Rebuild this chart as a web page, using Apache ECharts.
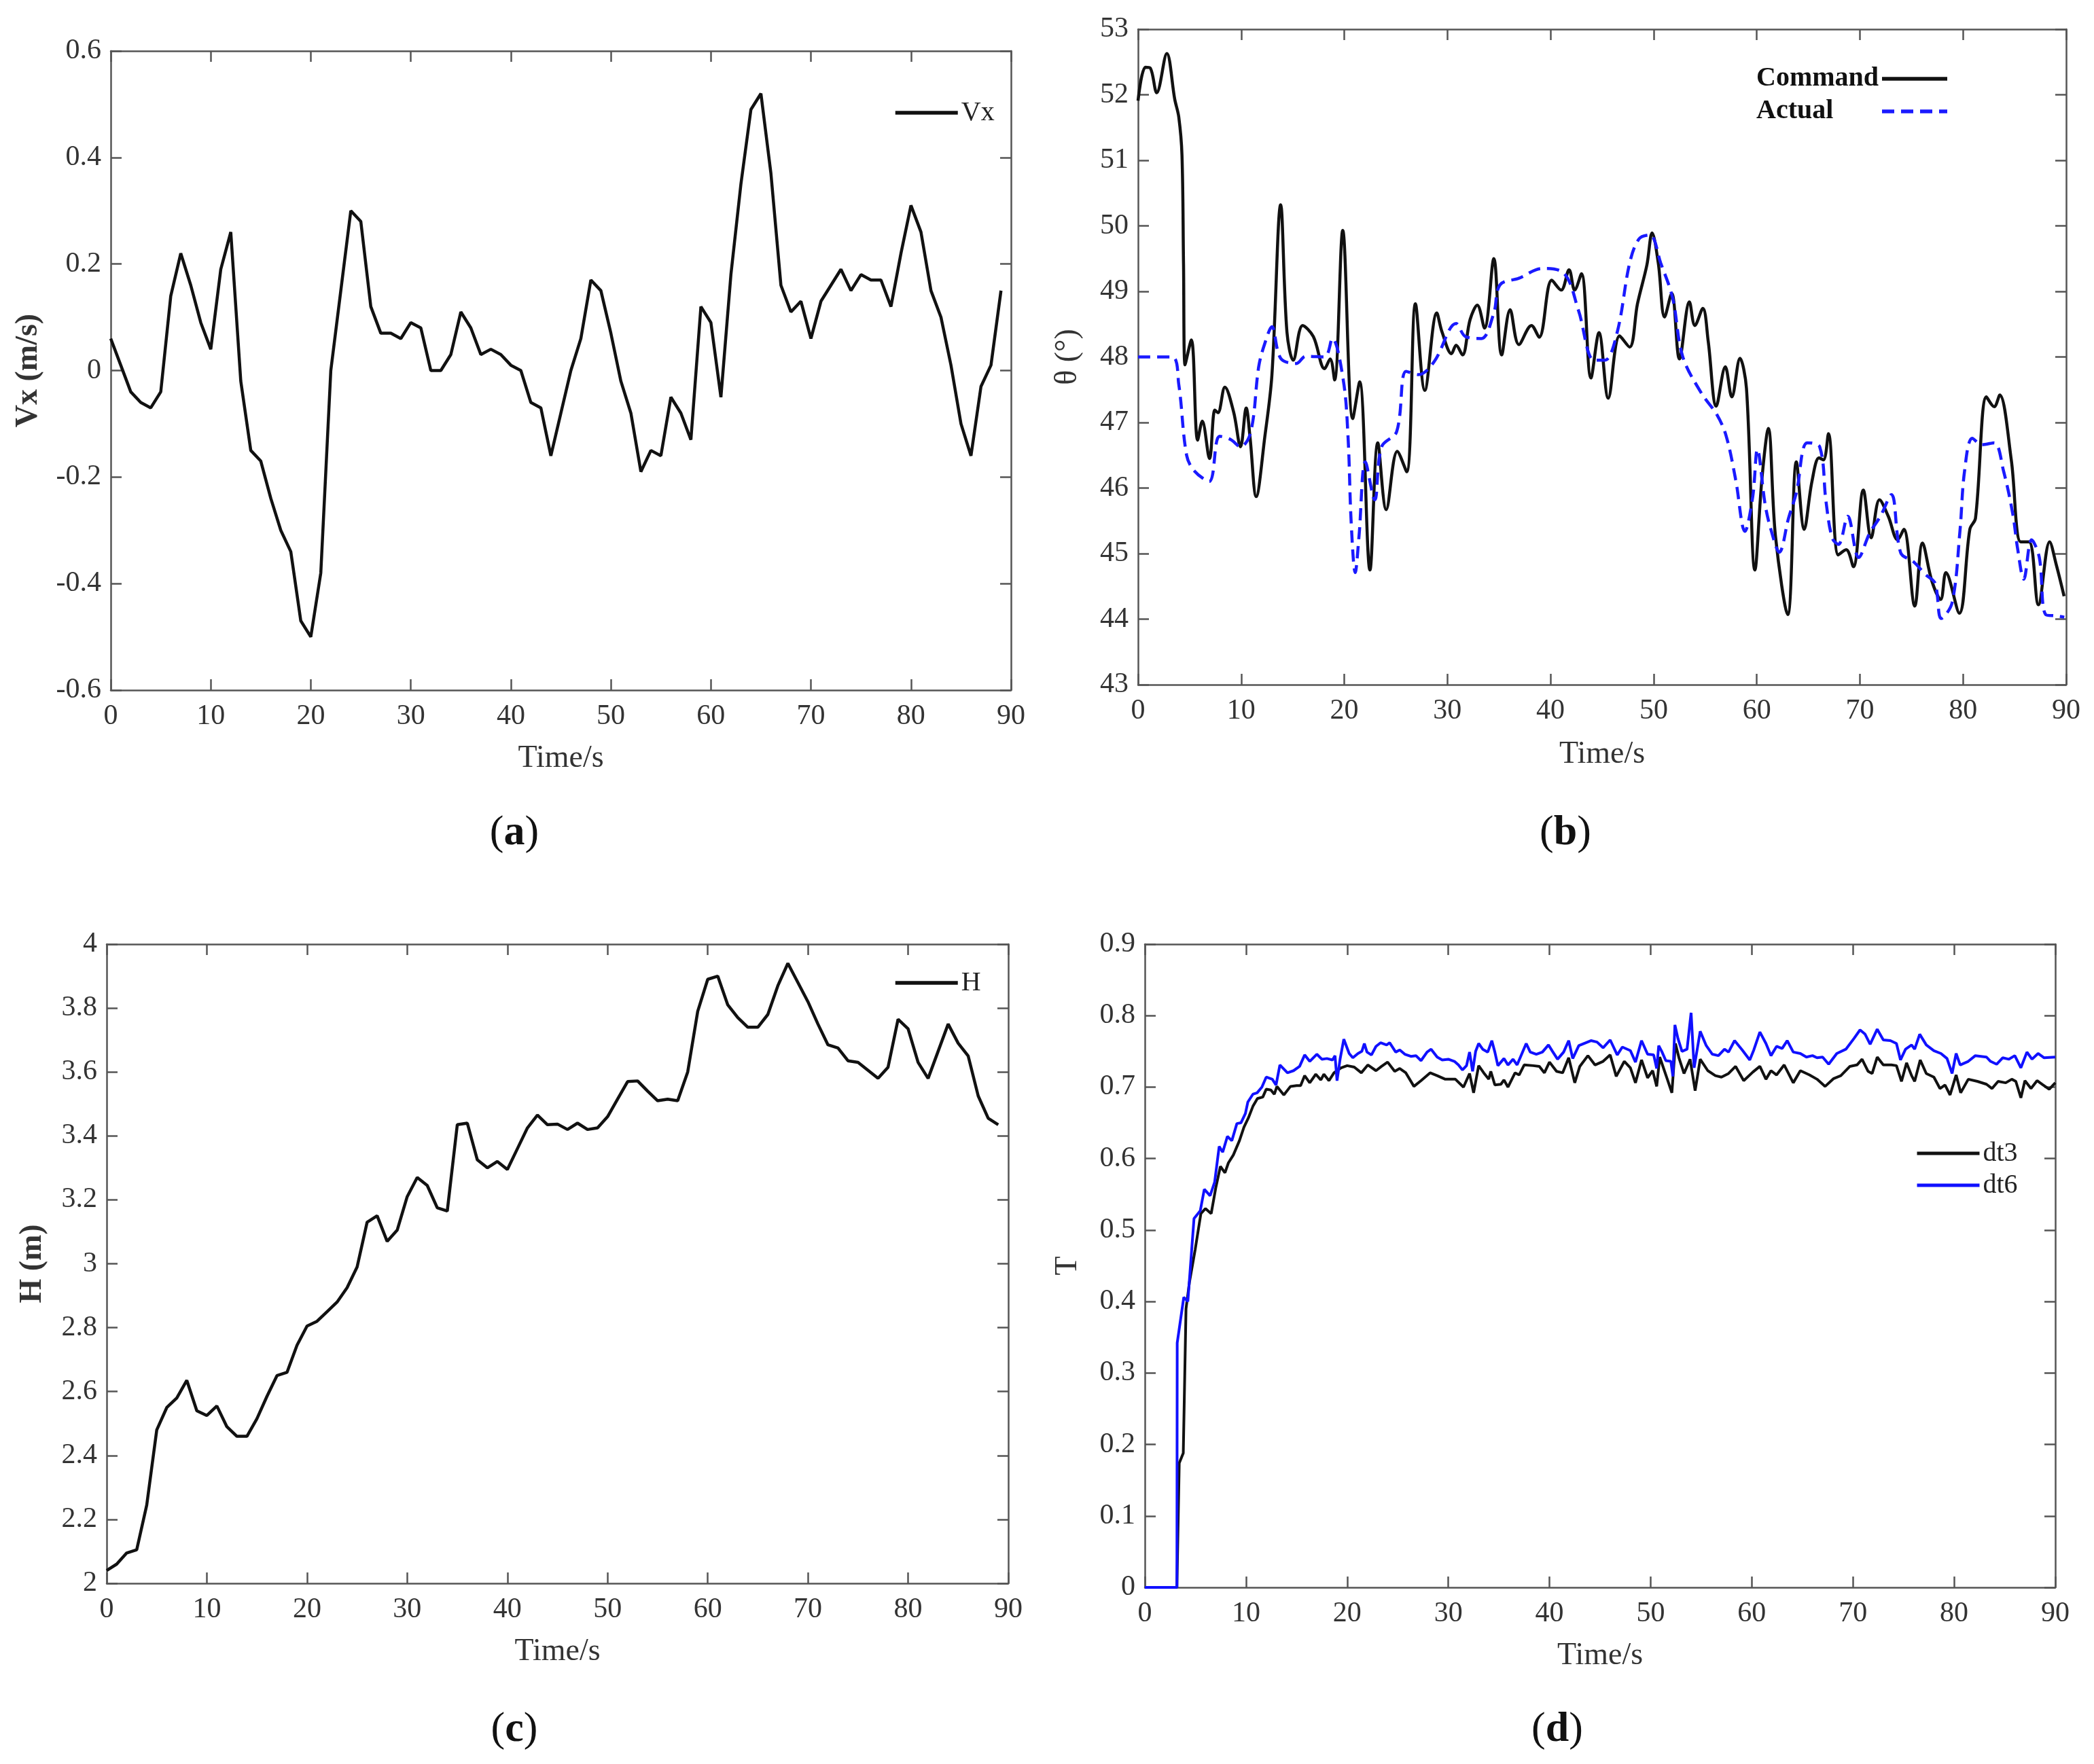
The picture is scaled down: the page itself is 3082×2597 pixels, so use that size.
<!DOCTYPE html>
<html>
<head>
<meta charset="utf-8">
<title>Vx / theta / H / T</title>
<script src="https://cdn.jsdelivr.net/npm/echarts@6/dist/echarts.min.js"></script>
<style>
html, body { margin: 0; padding: 0; background: #fff; }
#main { width: 3082px; height: 2597px; }
</style>
</head>
<body>
<div id="main"></div>
<script>
// (a) Vx, one value per second from t = 0
var vx = [0.06,0.01,-0.04,-0.06,-0.07,-0.04,0.14,0.22,0.16,0.09,
    0.04,0.19,0.26,-0.02,-0.15,-0.17,-0.24,-0.30,-0.34,-0.47,
    -0.50,-0.38,0.00,0.15,0.30,0.28,0.12,0.07,0.07,0.06,
    0.09,0.08,0.00,0.00,0.03,0.11,0.08,0.03,0.04,0.03,
    0.01,0.00,-0.06,-0.07,-0.16,-0.08,0.00,0.06,0.17,0.15,
    0.07,-0.02,-0.08,-0.19,-0.15,-0.16,-0.05,-0.08,-0.13,0.12,
    0.09,-0.05,0.18,0.35,0.49,0.52,0.37,0.16,0.11,0.13,
    0.06,0.13,0.16,0.19,0.15,0.18,0.17,0.17,0.12,0.22,
    0.31,0.26,0.15,0.10,0.01,-0.10,-0.16,-0.03,0.01,0.15];

// (b) theta command / actual, [time, value]
var command = [[0,51.91],[0.71,52.42],[1.17,52.41],[1.81,52.03],[2.79,52.63],[3.56,51.93],[3.95,51.66],[4.26,51.08],[4.41,49.43],[4.56,47.88],
    [5.17,48.26],[5.78,46.73],[6.23,47.02],[6.93,46.45],[7.45,47.19],[7.75,47.15],[8.42,47.54],[9.27,47.16],[9.94,46.63],[10.49,47.22],
    [10.85,46.79],[11.46,45.87],[12.3,46.79],[12.98,47.72],[13.83,50.32],[14.44,48.38],[15.05,47.95],[15.96,48.48],[17.0,48.31],[18.09,47.82],
    [18.63,47.97],[19.06,47.65],[19.85,49.93],[20.82,47.06],[21.49,47.62],[22.49,44.75],[23.25,46.69],[24.07,45.67],[25.14,46.56],[26.05,46.25],
    [26.9,48.81],[27.81,47.49],[28.97,48.67],[29.48,48.38],[30.4,48.05],[30.85,48.18],[31.46,48.03],[32.2,48.57],[32.9,48.79],[33.6,48.44],
    [34.5,49.50],[35.26,48.03],[36.08,48.72],[36.93,48.19],[38.15,48.48],[38.9,48.30],[40.12,49.17],[41.03,49.02],[41.8,49.33],[42.34,49.02],
    [43.0,49.27],[43.92,47.68],[44.7,48.37],[45.6,47.37],[46.7,48.32],[47.67,48.15],[48.43,48.81],[49.34,49.40],[49.85,49.89],[50.45,49.43],
    [51.06,48.61],[51.75,48.97],[52.5,47.97],[53.47,48.84],[54.0,48.48],[54.77,48.74],[55.29,48.24],[56.07,47.25],[56.95,47.85],[57.58,47.39],
    [58.37,47.98],[59.0,47.52],[59.82,44.75],[60.51,46.16],[61.12,46.91],[61.81,45.27],[63.0,44.07],[63.84,46.40],[64.6,45.37],[65.35,46.10],
    [66.04,46.46],[66.47,46.43],[66.95,46.83],[67.9,44.98],[68.67,45.06],[69.37,44.80],[70.33,45.97],[71.09,45.24],[71.9,45.82],[72.75,45.57],
    [73.66,45.21],[74.26,45.37],[75.32,44.20],[76.07,45.16],[76.98,44.58],[77.83,44.30],[78.34,44.71],[79.64,44.09],[80.66,45.37],[81.21,45.54],
    [82.27,47.39],[83.02,47.24],[83.56,47.42],[84.68,46.43],[85.59,45.18],[86.41,45.18],[87.31,44.22],[88.4,45.18],[89.06,44.82],[89.8,44.35]];

var actual = [[0,48.0],[3.3,48.0],[3.95,47.58],[4.71,46.5],[5.47,46.26],[6.9,46.1],[7.9,46.79],[8.97,46.74],[9.94,46.63],[10.94,46.86],
    [11.7,47.85],[12.3,48.21],[12.98,48.46],[13.83,47.98],[15.35,47.9],[16.26,48.01],[18.09,48.0],[18.84,48.28],[19.9,47.65],[20.36,46.79],
    [20.67,45.47],[21.06,44.71],[21.43,45.27],[22.04,46.4],[22.95,45.82],[23.62,46.63],[25.08,46.86],[25.99,47.78],[27.2,47.73],[28.72,47.93],
    [30.85,48.51],[31.76,48.31],[33.28,48.28],[34.5,48.67],[35.1,49.1],[36.93,49.2],[39.21,49.35],[41.34,49.27],[42.71,48.71],[44.23,47.95],
    [45.26,47.95],[46.47,48.38],[47.67,49.43],[48.58,49.8],[49.64,49.86],[50.69,49.43],[51.84,48.9],[52.81,48.01],[54.62,47.45],[56.13,47.12],
    [57.04,46.79],[57.95,46.13],[58.85,45.34],[59.61,45.87],[60.06,46.59],[60.82,45.74],[61.42,45.34],[62.18,45.02],[63.08,45.54],[63.84,45.93],
    [64.89,46.69],[66.1,46.63],[66.71,45.8],[67.31,45.24],[67.92,45.14],[68.82,45.57],[69.88,44.94],[70.94,45.31],[71.99,45.57],[73.05,45.9],
    [73.96,45.01],[75.17,44.88],[76.37,44.68],[77.28,44.55],[77.89,44.01],[78.94,44.25],[79.7,45.34],[80.15,46.26],[80.9,46.76],[81.81,46.66],
    [83.02,46.69],[83.93,46.26],[84.83,45.6],[85.29,45.08],[85.89,44.61],[86.65,45.21],[87.4,44.94],[88.01,44.07],[89.06,44.05],[89.82,44.03]];

// (c) H, one value per second from t = 0
var height = [2.04,2.06,2.095,2.105,2.245,2.48,2.55,2.58,2.635,2.54,
    2.525,2.555,2.49,2.46,2.46,2.515,2.585,2.65,2.66,2.745,
    2.805,2.82,2.85,2.88,2.925,2.99,3.13,3.15,3.07,3.105,
    3.21,3.27,3.245,3.175,3.165,3.435,3.44,3.325,3.30,3.32,
    3.295,3.36,3.425,3.465,3.435,3.437,3.42,3.44,3.42,3.425,
    3.46,3.515,3.57,3.572,3.54,3.51,3.515,3.51,3.60,3.79,
    3.89,3.90,3.81,3.77,3.74,3.74,3.78,3.87,3.94,3.88,
    3.82,3.75,3.685,3.675,3.635,3.63,3.605,3.58,3.615,3.765,
    3.735,3.63,3.58,3.665,3.75,3.69,3.65,3.525,3.455,3.435];

// (d) T for dt3 / dt6, [time, value]
var dt3 = [[0,0],[3.17,0],[3.4,0.174],[3.8,0.188],[4.07,0.39],[4.41,0.427],[4.98,0.473],[5.54,0.523],[5.99,0.53],[6.56,0.523],
    [7.01,0.559],[7.47,0.589],[7.92,0.58],[8.26,0.594],[8.75,0.605],[9.35,0.625],[9.8,0.644],[10.24,0.657],[10.68,0.673],[11.13,0.684],
    [11.66,0.686],[12.0,0.697],[12.46,0.696],[12.8,0.69],[13.06,0.701],[13.74,0.689],[14.4,0.701],[15.0,0.702],[15.4,0.702],[15.8,0.716],
    [16.3,0.706],[16.9,0.718],[17.4,0.71],[17.7,0.718],[18.2,0.709],[18.7,0.72],[19.4,0.727],[20.0,0.73],[20.7,0.728],[21.4,0.72],
    [22.05,0.731],[22.85,0.723],[23.4,0.729],[24.0,0.735],[24.7,0.722],[25.2,0.726],[25.8,0.72],[26.6,0.701],[27.3,0.709],[28.2,0.72],
    [28.9,0.716],[29.7,0.711],[30.7,0.711],[31.5,0.70],[32.1,0.719],[32.5,0.692],[33.0,0.73],[33.5,0.72],[34.0,0.711],[34.2,0.722],
    [34.6,0.703],[35.2,0.704],[35.5,0.71],[35.9,0.70],[36.6,0.72],[37.0,0.717],[37.5,0.731],[38.4,0.73],[39.0,0.729],[39.5,0.72],
    [40.0,0.735],[40.7,0.722],[41.3,0.72],[41.9,0.741],[42.5,0.706],[43.0,0.729],[43.8,0.744],[44.5,0.731],[45.3,0.736],[46.0,0.745],
    [46.6,0.715],[47.4,0.736],[48.0,0.727],[48.5,0.706],[49.1,0.738],[49.7,0.713],[50.2,0.723],[50.6,0.701],[50.9,0.742],[51.65,0.711],
    [52.1,0.692],[52.45,0.761],[52.8,0.741],[53.3,0.719],[53.9,0.739],[54.4,0.695],[54.9,0.739],[55.65,0.723],[56.4,0.716],[57.0,0.714],
    [57.7,0.719],[58.4,0.729],[59.2,0.709],[60.1,0.721],[60.8,0.729],[61.4,0.711],[61.9,0.723],[62.45,0.717],[63.2,0.731],[64.1,0.706],
    [64.8,0.723],[65.7,0.717],[66.45,0.711],[67.25,0.701],[68.1,0.712],[68.8,0.716],[69.7,0.729],[70.4,0.731],[70.9,0.739],[71.5,0.722],
    [71.9,0.719],[72.4,0.742],[73.0,0.731],[73.8,0.731],[74.3,0.73],[74.8,0.708],[75.3,0.734],[75.8,0.716],[76.1,0.708],[76.65,0.738],
    [77.25,0.719],[78.0,0.714],[78.6,0.698],[79.1,0.703],[79.6,0.689],[80.2,0.717],[80.65,0.692],[81.4,0.711],[82.3,0.708],[83.2,0.704],
    [83.75,0.698],[84.35,0.708],[85.1,0.706],[85.7,0.711],[86.1,0.708],[86.6,0.685],[87.0,0.709],[87.6,0.698],[88.2,0.709],[88.8,0.703],
    [89.4,0.697],[90.0,0.706]];

var dt6 = [[0,0],[3.17,0],[3.2,0.342],[3.85,0.406],[4.25,0.40],[4.86,0.516],[5.48,0.527],[5.88,0.557],[6.45,0.548],[6.9,0.567],
    [7.35,0.617],[7.7,0.609],[8.16,0.631],[8.6,0.625],[9.1,0.649],[9.5,0.65],[9.94,0.663],[10.18,0.679],[10.68,0.69],[11.1,0.692],
    [11.57,0.70],[12.0,0.714],[12.6,0.711],[12.97,0.703],[13.35,0.731],[14.1,0.72],[14.7,0.723],[15.3,0.729],[15.8,0.745],[16.3,0.736],
    [17.0,0.746],[17.5,0.739],[18.0,0.74],[18.55,0.738],[18.8,0.744],[19.0,0.709],[19.3,0.739],[19.67,0.767],[20.2,0.747],[20.56,0.741],
    [21.07,0.747],[21.45,0.75],[21.7,0.761],[21.96,0.749],[22.4,0.745],[22.85,0.757],[23.3,0.762],[23.9,0.759],[24.2,0.762],[24.8,0.749],
    [25.2,0.752],[25.7,0.746],[26.3,0.743],[26.8,0.744],[27.3,0.737],[27.9,0.749],[28.3,0.753],[28.9,0.742],[29.4,0.738],[30.0,0.739],
    [30.6,0.736],[31.0,0.731],[31.4,0.724],[31.8,0.73],[32.1,0.749],[32.4,0.722],[32.7,0.75],[33.0,0.761],[33.4,0.753],[33.9,0.749],
    [34.3,0.765],[34.6,0.749],[34.9,0.73],[35.5,0.74],[35.9,0.731],[36.4,0.739],[36.8,0.731],[37.7,0.761],[38.1,0.749],[38.7,0.746],
    [39.3,0.749],[39.9,0.759],[40.3,0.75],[40.8,0.739],[41.4,0.749],[41.9,0.765],[42.3,0.74],[42.9,0.758],[44.1,0.765],[44.7,0.763],
    [45.3,0.755],[46.0,0.766],[46.7,0.745],[47.2,0.756],[48.0,0.751],[48.5,0.735],[49.1,0.765],[49.7,0.746],[50.3,0.745],[50.6,0.726],
    [50.8,0.758],[51.1,0.75],[51.5,0.737],[52.0,0.736],[52.2,0.715],[52.4,0.787],[52.7,0.768],[53.1,0.75],[53.6,0.753],[54.0,0.804],
    [54.3,0.727],[54.9,0.778],[55.5,0.758],[56.1,0.746],[56.7,0.744],[57.3,0.753],[57.7,0.749],[58.3,0.765],[59.05,0.752],[59.8,0.738],
    [60.2,0.752],[60.8,0.777],[61.4,0.761],[61.9,0.744],[62.45,0.757],[63.0,0.754],[63.5,0.765],[64.1,0.749],[64.8,0.747],[65.4,0.742],
    [66.0,0.744],[66.45,0.741],[67.0,0.742],[67.6,0.732],[68.4,0.747],[69.3,0.753],[70.1,0.768],[70.7,0.78],[71.2,0.774],[71.7,0.76],
    [72.4,0.781],[73.0,0.766],[73.7,0.765],[74.3,0.761],[74.7,0.738],[75.2,0.753],[75.8,0.759],[76.1,0.753],[76.6,0.774],[77.25,0.759],
    [78.0,0.751],[78.7,0.747],[79.3,0.74],[79.8,0.719],[80.2,0.747],[80.6,0.731],[81.4,0.736],[82.1,0.744],[83.2,0.742],[83.6,0.736],
    [84.2,0.732],[84.8,0.741],[85.4,0.739],[86.0,0.744],[86.6,0.727],[87.2,0.749],[87.7,0.739],[88.3,0.747],[88.9,0.741],[90.0,0.742]];

var serif = 'Liberation Serif';
var axisColor = '#555';
var labelColor = '#333';

// time per sample is 1 s for (a) and (c)
function perSecond(arr) {
    return arr.map(function (v, i) { return [i, v]; });
}

function xAxisFor(gi, top, nameGap) {
    return {
        type: 'value', gridIndex: gi, position: top ? 'top' : 'bottom',
        min: 0, max: 90, interval: 10,
        name: top ? '' : 'Time/s', nameLocation: 'middle', nameGap: nameGap,
        nameTextStyle: { fontFamily: serif, fontSize: 46, color: labelColor },
        axisLine: { show: true, onZero: false, lineStyle: { color: axisColor, width: 2.5 } },
        axisTick: { show: true, inside: true, length: 16, lineStyle: { color: axisColor, width: 2.5 } },
        axisLabel: { show: !top, margin: 18, fontFamily: serif, fontSize: 42, color: labelColor,
            showMinLabel: true, showMaxLabel: true },
        splitLine: { show: false }
    };
}

function yAxisFor(gi, right, min, max, step, name, bold, nameGap) {
    return {
        type: 'value', gridIndex: gi, position: right ? 'right' : 'left',
        min: min, max: max, interval: step,
        name: right ? '' : name, nameLocation: 'middle', nameRotate: 90, nameGap: nameGap,
        nameTextStyle: { fontFamily: serif, fontSize: 46, color: labelColor, fontWeight: bold ? 'bold' : 'normal' },
        axisLine: { show: true, onZero: false, lineStyle: { color: axisColor, width: 2.5 } },
        axisTick: { show: true, inside: true, length: 16, lineStyle: { color: axisColor, width: 2.5 } },
        axisLabel: { show: !right, margin: 14, fontFamily: serif, fontSize: 42, color: labelColor,
            showMinLabel: true, showMaxLabel: true },
        splitLine: { show: false }
    };
}

function caption(x, y, letter) {
    return {
        type: 'text', x: x, y: y,
        style: {
            text: '{p|(}{b|' + letter + '}{p|)}',
            align: 'center', verticalAlign: 'middle',
            rich: {
                p: { fontFamily: serif, fontSize: 62, fill: '#111' },
                b: { fontFamily: serif, fontSize: 62, fontWeight: 'bold', fill: '#111' }
            }
        }
    };
}

var legendText = { fontFamily: serif, fontSize: 40, color: '#222' };
// hide the symbol ECharts draws in the middle of a line legend icon
var noSymbol = { opacity: 0 };
var legendLine = { width: 5.5 };

var chart = echarts.init(document.getElementById('main'));
chart.setOption({
    backgroundColor: '#fff',
    animation: false,
    textStyle: { fontFamily: serif },
    grid: [
        { left: 163, top: 75, width: 1325, height: 941 },
        { left: 1675, top: 43, width: 1366, height: 965 },
        { left: 157, top: 1390, width: 1327, height: 941 },
        { left: 1685, top: 1390, width: 1340, height: 947 }
    ],
    xAxis: [
        xAxisFor(0, false, 78), xAxisFor(1, false, 80), xAxisFor(2, false, 78), xAxisFor(3, false, 78),
        xAxisFor(0, true), xAxisFor(1, true), xAxisFor(2, true), xAxisFor(3, true)
    ],
    yAxis: [
        yAxisFor(0, false, -0.6, 0.6, 0.2, 'Vx (m/s)', true, 98),
        yAxisFor(1, false, 43, 53, 1, 'θ (°)', false, 80),
        yAxisFor(2, false, 2, 4, 0.2, 'H (m)', true, 86),
        yAxisFor(3, false, 0, 0.9, 0.1, 'T', false, 90),
        yAxisFor(0, true, -0.6, 0.6, 0.2), yAxisFor(1, true, 43, 53, 1),
        yAxisFor(2, true, 2, 4, 0.2), yAxisFor(3, true, 0, 0.9, 0.1)
    ],
    legend: [
        { data: ['Vx'], left: 1315, top: 146, padding: 0, itemWidth: 92, itemHeight: 20,
            selectedMode: false, itemStyle: noSymbol, lineStyle: legendLine, textStyle: legendText },
        { data: ['Command', 'Actual'], left: 2585, top: 96, padding: 0, orient: 'vertical', align: 'right',
            itemWidth: 96, itemHeight: 20, itemGap: 8, selectedMode: false, itemStyle: noSymbol, lineStyle: legendLine,
            formatter: function (name) { return '{t|' + name + '}'; },
            textStyle: { fontFamily: serif, fontSize: 40, color: '#111', fontWeight: 'bold',
                rich: { t: { width: 180, align: 'left', fontFamily: serif, fontSize: 40, fontWeight: 'bold', color: '#111' } } } },
        { data: ['H'], left: 1315, top: 1427, padding: 0, itemWidth: 92, itemHeight: 20,
            selectedMode: false, itemStyle: noSymbol, lineStyle: legendLine, textStyle: legendText },
        { data: ['dt3', 'dt6'], left: 2819, top: 1678, padding: 0, orient: 'vertical',
            itemWidth: 92, itemHeight: 20, itemGap: 7, selectedMode: false, itemStyle: noSymbol,
            lineStyle: { width: 5 }, textStyle: legendText }
    ],
    graphic: [
        caption(757, 1227, 'a'), caption(2304, 1227, 'b'),
        caption(757, 2547, 'c'), caption(2292, 2547, 'd')
    ],
    series: [
        { name: 'Vx', type: 'line', xAxisIndex: 0, yAxisIndex: 0, symbol: 'none',
            lineStyle: { color: '#111', width: 4.5 }, itemStyle: { color: '#111' }, data: perSecond(vx) },
        { name: 'Command', type: 'line', xAxisIndex: 1, yAxisIndex: 1, symbol: 'none', smooth: 0.35,
            lineStyle: { color: '#111', width: 4.5 }, itemStyle: { color: '#111' }, data: command },
        { name: 'Actual', type: 'line', xAxisIndex: 1, yAxisIndex: 1, symbol: 'none', smooth: 0.35,
            lineStyle: { color: '#1a1aff', width: 4.5, type: [18, 10] }, itemStyle: { color: '#1a1aff' }, data: actual },
        { name: 'H', type: 'line', xAxisIndex: 2, yAxisIndex: 2, symbol: 'none',
            lineStyle: { color: '#111', width: 4.5 }, itemStyle: { color: '#111' }, data: perSecond(height) },
        { name: 'dt3', type: 'line', xAxisIndex: 3, yAxisIndex: 3, symbol: 'none',
            lineStyle: { color: '#111', width: 4 }, itemStyle: { color: '#111' }, data: dt3 },
        { name: 'dt6', type: 'line', xAxisIndex: 3, yAxisIndex: 3, symbol: 'none',
            lineStyle: { color: '#1010ff', width: 4 }, itemStyle: { color: '#1010ff' }, data: dt6 }
    ]
});
</script>
</body>
</html>
